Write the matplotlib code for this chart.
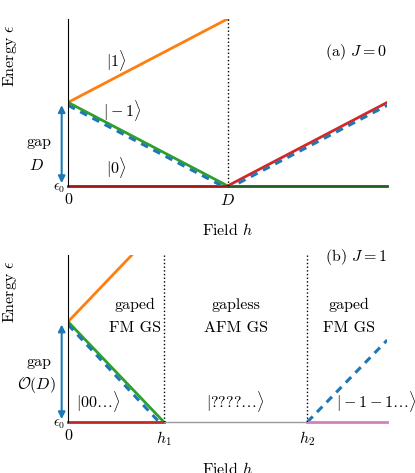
import matplotlib
matplotlib.use("Agg")
import matplotlib.pyplot as plt

plt.rcParams["font.family"] = "serif"
plt.rcParams["font.serif"] = ["cmr10", "DejaVu Serif"]
plt.rcParams["mathtext.fontset"] = "cm"
plt.rcParams["axes.formatter.use_mathtext"] = True

# panel (a): J = 0
D = 1.0
a_h = [0.0, D, 2.0]
a_plus = [D, 2.0]          # |1> energy at h=0 and h=D
a_minus = [D, 0.0, D]      # lowest excitation (|-1> then |0>)
# panel (b): J = 1
h1, h2 = 0.6, 1.5
b_gap = 1.2
b_orange_end = (0.4, 2.0)
b_right_end = (2.0, 0.98)

fs = 11.5
off = 0.035
fig = plt.figure(figsize=(4.15, 4.73), dpi=100)
axa = fig.add_axes([0.164, 0.607, 0.769, 0.353])
axb = fig.add_axes([0.164, 0.108, 0.769, 0.353])

for ax in (axa, axb):
    ax.set_xlim(0, 2)
    ax.set_ylim(0, 2)
    for s in ("top", "right", "bottom"):
        ax.spines[s].set_visible(False)
    ax.spines["left"].set_linewidth(0.8)
    ax.tick_params(length=0, labelsize=fs, pad=5)
    ax.set_ylabel(r"Energy $\epsilon$", fontsize=fs)
    ax.yaxis.set_label_coords(-0.155, 0.78)
    ax.set_xlabel(r"Field $h$", fontsize=fs, labelpad=10)
    ax.set_yticks([0])
    ax.set_yticklabels([r"$\epsilon_0$"], fontsize=fs - 1.5)
    ax.tick_params(axis="y", pad=2)

# (a)
axa.plot([0, D], a_plus, color="#ff7f0e", lw=2)
axa.plot([0, D], a_minus[:2], color="#2ca02c", lw=2)
axa.plot([D, 2], a_minus[1:], color="#d62728", lw=2)
axa.plot([0, D], [0, 0], color="#a31515", lw=2, clip_on=False)
axa.plot([D, 2], [0, 0], color="#1f5f1f", lw=2, clip_on=False)
axa.plot(a_h, [v - off for v in a_minus], color="#1f77b4", lw=2.2, ls=(0, (2.5, 2)))
axa.plot([D, D], [0, 2], color="k", lw=1, ls=":")
axa.set_xticks([0, D])
axa.set_xticklabels(["0", r"$D$"])
axa.annotate("", xy=(-0.04, 0), xytext=(-0.04, D), xycoords="data",
             arrowprops=dict(arrowstyle="<|-|>", color="#1f77b4", lw=1.5), annotation_clip=False)
axa.text(-0.18, 0.52, "gap", ha="center", va="center", fontsize=fs)
axa.text(-0.2, 0.25, r"$D$", ha="center", va="center", fontsize=fs)
axa.text(0.3, 1.5, r"$|1\rangle$", ha="center", va="center", fontsize=fs)
axa.text(0.34, 0.9, r"$|-1\rangle$", ha="center", va="center", fontsize=fs)
axa.text(0.3, 0.22, r"$|0\rangle$", ha="center", va="center", fontsize=fs)
axa.text(2.0, 1.6, r"(a) $J=0$", ha="right", va="center", fontsize=fs)

# (b)
axb.plot([0, b_orange_end[0]], [b_gap, b_orange_end[1]], color="#ff7f0e", lw=2)
axb.plot([0, h1], [b_gap, 0], color="#2ca02c", lw=2)
axb.plot([0, h1 - 0.03], [b_gap - off, 0.0], color="#1f77b4", lw=2.2, ls=(0, (2.5, 2)))
axb.plot([h2, b_right_end[0]], [0, b_right_end[1]], color="#1f77b4", lw=2.2, ls=(0, (2.5, 2)))
axb.plot([0, h1], [0, 0], color="#c0282a", lw=2, clip_on=False)
axb.plot([h1, h2], [0, 0], color="#999999", lw=1, clip_on=False)
axb.plot([h2, 2], [0, 0], color="#d67fb8", lw=2, clip_on=False)
for h in (h1, h2):
    axb.plot([h, h], [0, 2], color="k", lw=1, ls=":")
axb.set_xticks([0, h1, h2])
axb.set_xticklabels(["0", r"$h_1$", r"$h_2$"])
axb.annotate("", xy=(-0.04, 0), xytext=(-0.04, b_gap), xycoords="data",
             arrowprops=dict(arrowstyle="<|-|>", color="#1f77b4", lw=1.5), annotation_clip=False)
axb.text(-0.18, 0.72, "gap", ha="center", va="center", fontsize=fs)
axb.text(-0.2, 0.44, r"$\mathcal{O}(D)$", ha="center", va="center", fontsize=fs)
axb.text(0.42, 1.4, "gaped", ha="center", va="center", fontsize=fs)
axb.text(0.42, 1.12, "FM GS", ha="center", va="center", fontsize=fs)
axb.text(1.05, 1.4, "gapless", ha="center", va="center", fontsize=fs)
axb.text(1.05, 1.12, "AFM GS", ha="center", va="center", fontsize=fs)
axb.text(1.76, 1.4, "gaped", ha="center", va="center", fontsize=fs)
axb.text(1.76, 1.12, "FM GS", ha="center", va="center", fontsize=fs)
axb.text(0.19, 0.24, r"$|00\ldots\rangle$", ha="center", va="center", fontsize=fs)
axb.text(1.05, 0.24, r"$|????\ldots\rangle$", ha="center", va="center", fontsize=fs)
axb.text(1.93, 0.24, r"$|-1-1\ldots\rangle$", ha="center", va="center", fontsize=fs)
axb.text(2.0, 1.98, r"(b) $J=1$", ha="right", va="center", fontsize=fs)

fig.savefig("out.png", dpi=100)
